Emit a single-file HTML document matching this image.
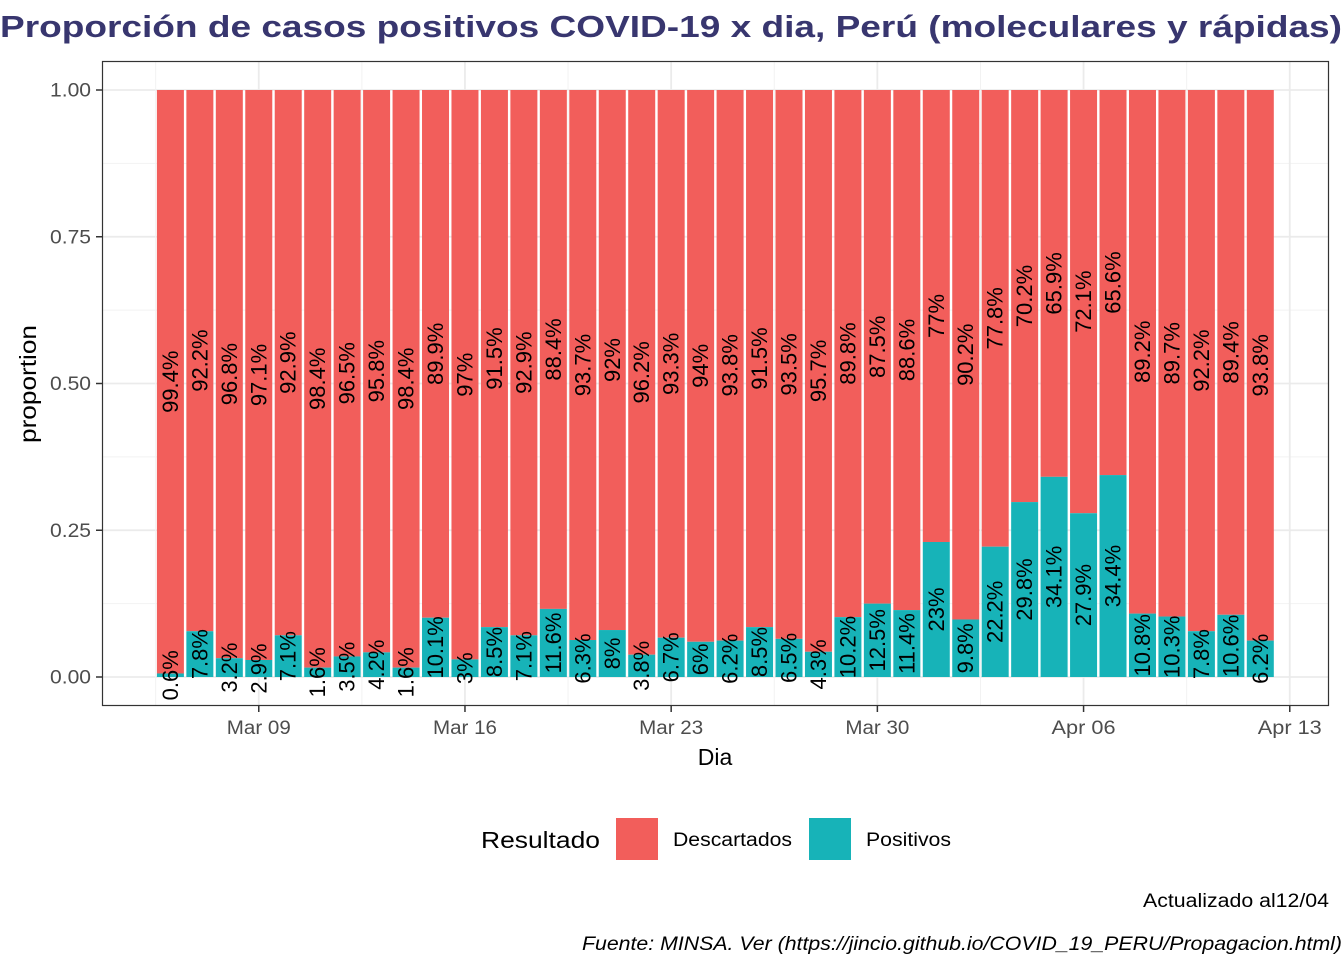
<!DOCTYPE html>
<html><head><meta charset="utf-8"><style>
body{margin:0;background:#fff}
svg{display:block;font-family:"Liberation Sans",Arial,sans-serif}
</style></head><body>
<svg id="chart" width="1344" height="960" viewBox="0 0 1344 960">
<text x="0" y="37" font-size="31" font-weight="bold" fill="#38366f" textLength="1342" lengthAdjust="spacingAndGlyphs">Proporción de casos positivos COVID-19 x dia, Perú (moleculares y rápidas)</text>
<g id="grid"></g>
<g id="bars"></g>
<g id="labels"></g>
<rect x="102.5" y="61.5" width="1226" height="644" fill="none" stroke="#333" stroke-width="1.2"/>
<g id="axes"></g>
<text x="715" y="765" font-size="23" text-anchor="middle" fill="#000">Dia</text>
<text transform="translate(36,384) rotate(-90)" font-size="23" text-anchor="middle" fill="#000" textLength="118" lengthAdjust="spacingAndGlyphs">proportion</text>
<g>
<text x="481" y="848" font-size="23" fill="#000" textLength="119" lengthAdjust="spacingAndGlyphs">Resultado</text>
<rect x="616" y="818" width="42" height="42" fill="#F25E5B"/>
<text x="673" y="846" font-size="19" fill="#000" textLength="119" lengthAdjust="spacingAndGlyphs">Descartados</text>
<rect x="809" y="818" width="42" height="42" fill="#17B3B8"/>
<text x="866" y="846" font-size="19" fill="#000" textLength="85" lengthAdjust="spacingAndGlyphs">Positivos</text>
</g>
<text x="1143" y="907" font-size="19" fill="#000" textLength="186" lengthAdjust="spacingAndGlyphs">Actualizado al12/04</text>
<text x="582" y="950" font-size="19" font-style="italic" fill="#000" textLength="760" lengthAdjust="spacingAndGlyphs">Fuente: MINSA. Ver (https://jincio.github.io/COVID_19_PERU/Propagacion.html)</text>
</svg>
<script>
const positivos=[0.6,7.8,3.2,2.9,7.1,1.6,3.5,4.2,1.6,10.1,3,8.5,7.1,11.6,6.3,8,3.8,6.7,6,6.2,8.5,6.5,4.3,10.2,12.5,11.4,23,9.8,22.2,29.8,34.1,27.9,34.4,10.8,10.3,7.8,10.6,6.2];
const descartados=[99.4,92.2,96.8,97.1,92.9,98.4,96.5,95.8,98.4,89.9,97,91.5,92.9,88.4,93.7,92,96.2,93.3,94,93.8,91.5,93.5,95.7,89.8,87.5,88.6,77,90.2,77.8,70.2,65.9,72.1,65.6,89.2,89.7,92.2,89.4,93.8];
const yTicks=[0,0.25,0.5,0.75,1];
const yTickLabels=["0.00","0.25","0.50","0.75","1.00"];
const xTickDays=[3,10,17,24,31,38];
const xTickLabels=["Mar 09","Mar 16","Mar 23","Mar 30","Apr 06","Apr 13"];
const NS="http://www.w3.org/2000/svg";
const y=v=>677-v*587;
const x=d=>170.4+d*29.457;
const bw=27;
function mk(tag,attrs,parent){const e=document.createElementNS(NS,tag);for(const k in attrs)e.setAttribute(k,attrs[k]);document.getElementById(parent).appendChild(e);return e;}
for(let i=0;i<yTicks.length;i++){
 const l=mk('line',{x1:102,x2:1328,y1:y(yTicks[i]),y2:y(yTicks[i]),stroke:'#ebebeb','stroke-width':1.8},'grid');
 
 
 if(i<yTicks.length-1){const m=mk('line',{x1:102,x2:1328,y1:y((yTicks[i]+yTicks[i+1])/2),y2:y((yTicks[i]+yTicks[i+1])/2),stroke:'#f2f2f2','stroke-width':1},'grid');
 
 }
}
for(let i=0;i<xTickDays.length;i++){
 const l=mk('line',{x1:x(xTickDays[i]),x2:x(xTickDays[i]),y1:62,y2:705,stroke:'#ebebeb','stroke-width':1.8},'grid');
 
 
 const mx=x(xTickDays[i]-3.5);
 const m=mk('line',{x1:mx,x2:mx,y1:62,y2:705,stroke:'#f2f2f2','stroke-width':1},'grid');
 
 
}
for(let i=0;i<positivos.length;i++){
 const p=positivos[i]/100, d=descartados[i]/100, tot=p+d;
 const pp=p/tot, dd=d/tot;
 const cx=x(i);
 const r1=mk('rect',{x:cx-bw/2,y:y(1),width:bw,height:y(pp)-y(1),fill:'#F25E5B'},'bars');
 
 
 const r2=mk('rect',{x:cx-bw/2,y:y(pp),width:bw,height:y(0)-y(pp),fill:'#17B3B8'},'bars');
 
 
 const ly1=y(pp+dd/2), ly2=y(pp/2);
 const t1=mk('text',{transform:`translate(${cx+7.5},${ly1}) rotate(-90)`,'font-size':22,'text-anchor':'middle',fill:'#000'},'labels');
 t1.textContent=descartados[i]+'%';
 
 
 const t2=mk('text',{transform:`translate(${cx+7.5},${ly2}) rotate(-90)`,'font-size':22,'text-anchor':'middle',fill:'#000'},'labels');
 t2.textContent=positivos[i]+'%';
 
 
}
for(let i=0;i<yTicks.length;i++){
 const l=mk('line',{x1:96,x2:102,y1:y(yTicks[i]),y2:y(yTicks[i]),stroke:'#333','stroke-width':1.5},'axes');
 
 
 const t=mk('text',{x:91,y:y(yTicks[i])+6.5,'font-size':19,'text-anchor':'end',fill:'#4d4d4d',textLength:41,lengthAdjust:'spacingAndGlyphs'},'axes');
 t.textContent=yTickLabels[i];
 
 
}
for(let i=0;i<xTickDays.length;i++){
 const l=mk('line',{x1:x(xTickDays[i]),x2:x(xTickDays[i]),y1:706,y2:712,stroke:'#333','stroke-width':1.5},'axes');
 
 
 const t=mk('text',{x:x(xTickDays[i])-32,y:734,'font-size':19,fill:'#4d4d4d',textLength:64,lengthAdjust:'spacingAndGlyphs'},'axes');
 t.textContent=xTickLabels[i];
 
 
}
</script>
</body></html>
